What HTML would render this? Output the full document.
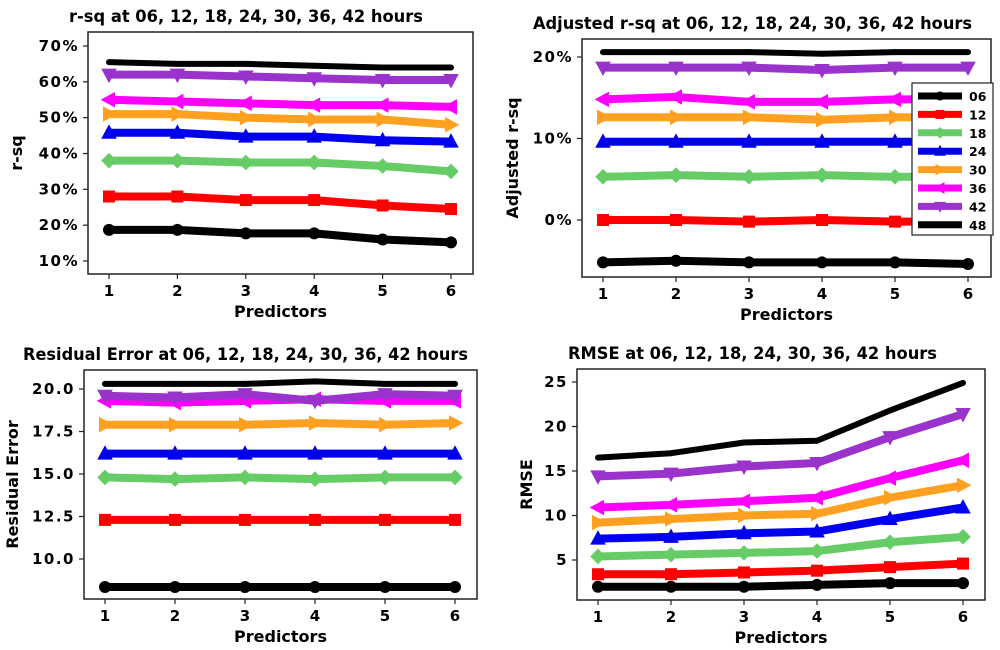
<!DOCTYPE html>
<html><head><meta charset="utf-8">
<style>
html,body{margin:0;padding:0;background:#fff;}
svg{display:block;font-family:"DejaVu Sans","Liberation Sans",sans-serif;font-weight:bold;}
</style></head>
<body>
<svg id="chart" width="1000" height="650" viewBox="0 0 1000 650"></svg>
<script>
const predictors = [1,2,3,4,5,6];
const seriesNames = ["06","12","18","24","30","36","42","48"];
const seriesColors = ["#000000","#ff0000","#66cc66","#0000ee","#ffa020","#ff00ff","#9933cc","#000000"];
const seriesMarkers = ["circle","square","diamond","tri-up","tri-right","tri-left","tri-down","plus"];

const rsq06 = [18.7,18.7,17.7,17.7,16,15.2];
const rsq12 = [28,28,27,27,25.5,24.5];
const rsq18 = [38,38,37.5,37.5,36.5,35];
const rsq24 = [45.8,45.8,44.7,44.7,43.7,43.3];
const rsq30 = [51,51,50,49.5,49.5,48];
const rsq36 = [55,54.5,54,53.5,53.5,53];
const rsq42 = [62,62,61.5,61,60.5,60.5];
const rsq48 = [65.5,65,65,64.5,64,64];
const rsqTicks = [10,20,30,40,50,60,70];

const adj06 = [-5.2,-5.0,-5.2,-5.2,-5.2,-5.4];
const adj12 = [0,0,-0.2,0,-0.2,-0.2];
const adj18 = [5.3,5.5,5.3,5.5,5.3,5.3];
const adj24 = [9.6,9.6,9.6,9.6,9.6,9.6];
const adj30 = [12.6,12.6,12.6,12.3,12.6,12.6];
const adj36 = [14.8,15.1,14.5,14.5,14.8,14.8];
const adj42 = [18.7,18.7,18.7,18.4,18.7,18.7];
const adj48 = [20.6,20.6,20.6,20.4,20.6,20.6];
const adjTicks = [0,10,20];

const res06 = [8.35,8.35,8.35,8.35,8.35,8.35];
const res12 = [12.3,12.3,12.3,12.3,12.3,12.3];
const res18 = [14.8,14.7,14.8,14.7,14.8,14.8];
const res24 = [16.2,16.2,16.2,16.2,16.2,16.2];
const res30 = [17.9,17.9,17.9,18.0,17.9,18.0];
const res36 = [19.3,19.2,19.3,19.4,19.3,19.3];
const res42 = [19.6,19.5,19.7,19.3,19.7,19.6];
const res48 = [20.3,20.3,20.3,20.45,20.3,20.3];
const resTicks = [10.0,12.5,15.0,17.5,20.0];

const rmse06 = [2,2,2,2.2,2.4,2.4];
const rmse12 = [3.4,3.4,3.6,3.8,4.2,4.6];
const rmse18 = [5.4,5.6,5.8,6,7,7.6];
const rmse24 = [7.4,7.6,8,8.2,9.6,10.9];
const rmse30 = [9.2,9.6,10,10.2,12,13.4];
const rmse36 = [10.9,11.2,11.6,12,14.2,16.2];
const rmse42 = [14.4,14.7,15.5,15.9,18.8,21.4];
const rmse48 = [16.5,17,18.2,18.4,21.8,24.9];
const rmseTicks = [5,10,15,20,25];

const NS="http://www.w3.org/2000/svg";
const svg=document.getElementById('chart');
function mk(tag,attrs,parent){const e=document.createElementNS(NS,tag);for(const k in attrs)e.setAttribute(k,attrs[k]);(parent||svg).appendChild(e);return e;}

function marker(g,type,x,y,c,s){
  let e;
  if(type==="circle") e=mk('circle',{cx:x,cy:y,r:s},g);
  else if(type==="square") e=mk('rect',{x:x-s,y:y-s,width:2*s,height:2*s},g);
  else if(type==="diamond") e=mk('polygon',{points:`${x},${y-s*1.3} ${x+s*1.3},${y} ${x},${y+s*1.3} ${x-s*1.3},${y}`},g);
  else if(type==="tri-up") e=mk('polygon',{points:`${x},${y-s*1.4} ${x+s*1.3},${y+s} ${x-s*1.3},${y+s}`},g);
  else if(type==="tri-down") e=mk('polygon',{points:`${x},${y+s*1.4} ${x+s*1.3},${y-s} ${x-s*1.3},${y-s}`},g);
  else if(type==="tri-right") e=mk('polygon',{points:`${x+s*1.4},${y} ${x-s},${y-s*1.3} ${x-s},${y+s*1.3}`},g);
  else if(type==="tri-left") e=mk('polygon',{points:`${x-s*1.4},${y} ${x+s},${y-s*1.3} ${x+s},${y+s*1.3}`},g);
  else e=mk('circle',{cx:x,cy:y,r:s*0.5},g);
  e.setAttribute('fill',c);
  
  
}

function panel(cfg){
  const g=mk('g',{});
  
  
  const xS=v=>cfg.x1+(v-1)/(6-1)*(cfg.x6-cfg.x1);
  const yS=v=>cfg.ya+(v-cfg.va)/(cfg.vb-cfg.va)*(cfg.yb-cfg.ya);
  const t=mk('text',{x:cfg.tx0,y:cfg.fy0-10,'font-size':16.5,textLength:cfg.tx1-cfg.tx0,lengthAdjust:'spacingAndGlyphs'},g);
  t.textContent=cfg.title;
  
  
  cfg.series.forEach((arr,i)=>{
    const s=mk('g',{},g);
    
    
    const pts=arr.map((v,j)=>xS(predictors[j])+','+yS(v)).join(' ');
    mk('polyline',{points:pts,fill:'none',stroke:seriesColors[i],'stroke-width':i===7?6:8,'stroke-linejoin':'round'},s);
    arr.forEach((v,j)=>marker(s,seriesMarkers[i],xS(predictors[j]),yS(v),seriesColors[i],6));
  });
  const fr=mk('rect',{x:cfg.fx0,y:cfg.fy0,width:cfg.fx1-cfg.fx0,height:cfg.fy1-cfg.fy0,fill:'none',stroke:'#222','stroke-width':1.5},g);
  
  
  predictors.forEach(p=>{
    const x=xS(p);
    mk('line',{x1:x,x2:x,y1:cfg.fy1,y2:cfg.fy1+5,stroke:'#222','stroke-width':1.2},g);
    const tl=mk('text',{x:x,y:cfg.fy1+22,'text-anchor':'middle','font-size':15},g);
    tl.textContent=p;
    
    
  });
  cfg.ticks.forEach(v=>{
    const y=yS(v);
    mk('line',{x1:cfg.fx0-5,x2:cfg.fx0,y1:y,y2:y,stroke:'#222','stroke-width':1.2},g);
    const tl=mk('text',{x:cfg.fx0-9,y:y+5,'text-anchor':'end','font-size':15,'letter-spacing':1.5},g);
    tl.textContent=cfg.fmt(v);
    
    
  });
  const xl=mk('text',{x:(cfg.fx0+cfg.fx1)/2,y:cfg.fy1+43,'text-anchor':'middle','font-size':16},g);
  xl.textContent='Predictors';
  
  
  const yc=(cfg.fy0+cfg.fy1)/2;
  const yl=mk('text',{x:cfg.ylx,y:yc,'text-anchor':'middle','font-size':16,transform:`rotate(-90 ${cfg.ylx} ${yc})`},g);
  yl.textContent=cfg.ylabel;
  
  
  return g;
}

panel({name:'rsq-panel',title:'r-sq at 06, 12, 18, 24, 30, 36, 42 hours',ylabel:'r-sq',ylx:22,tx0:69,tx1:423,
  fx0:88,fx1:473,fy0:32,fy1:274,x1:109,x6:451,ya:46,va:70,yb:261,vb:10,ticks:rsqTicks,fmt:v=>v+'%',
  series:[rsq06,rsq12,rsq18,rsq24,rsq30,rsq36,rsq42,rsq48]});
panel({name:'adjusted-rsq-panel',title:'Adjusted r-sq at 06, 12, 18, 24, 30, 36, 42 hours',ylabel:'Adjusted r-sq',ylx:518,tx0:533,tx1:972,
  fx0:582,fx1:991,fy0:39,fy1:277,x1:603,x6:968,ya:57,va:20,yb:220,vb:0,ticks:adjTicks,fmt:v=>v+'%',
  series:[adj06,adj12,adj18,adj24,adj30,adj36,adj42,adj48]});
panel({name:'residual-error-panel',title:'Residual Error at 06, 12, 18, 24, 30, 36, 42 hours',ylabel:'Residual Error',ylx:18,tx0:23,tx1:468,
  fx0:84,fx1:477,fy0:370,fy1:599,x1:105,x6:455,ya:389,va:20,yb:559,vb:10,ticks:resTicks,fmt:v=>v.toFixed(1),
  series:[res06,res12,res18,res24,res30,res36,res42,res48]});
panel({name:'rmse-panel',title:'RMSE at 06, 12, 18, 24, 30, 36, 42 hours',ylabel:'RMSE',ylx:532,tx0:568,tx1:937,
  fx0:577,fx1:985,fy0:369,fy1:600,x1:598,x6:963,ya:382,va:25,yb:560,vb:5,ticks:rmseTicks,fmt:v=>String(v),
  series:[rmse06,rmse12,rmse18,rmse24,rmse30,rmse36,rmse42,rmse48]});

const lg=mk('g',{});


mk('rect',{x:912,y:83,width:81,height:152,fill:'#fff',stroke:'#222','stroke-width':1.2},lg);
seriesNames.forEach((n,i)=>{
  const y=96+i*18.4;
  const en=mk('g',{},lg);
  
  
  mk('line',{x1:918,x2:962,y1:y,y2:y,stroke:seriesColors[i],'stroke-width':7},en);
  marker(en,seriesMarkers[i],940,y,seriesColors[i],4.5);
  const t=mk('text',{x:969,y:y+5,'font-size':12.5},en);
  t.textContent=n;
});
</script>
</body></html>
